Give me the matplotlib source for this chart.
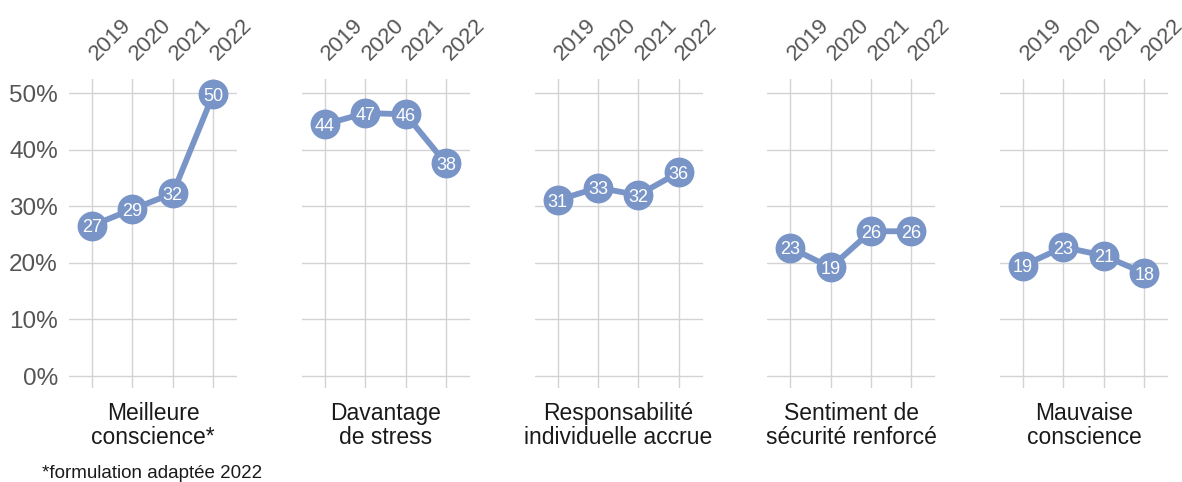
import matplotlib
matplotlib.use("Agg")
import matplotlib.pyplot as plt
import matplotlib.transforms as mtransforms
from matplotlib.ticker import FuncFormatter

years = ["2019", "2020", "2021", "2022"]
categories = ["Meilleure\nconscience*", "Davantage\nde stress",
              "Responsabilité\nindividuelle accrue", "Sentiment de\nsécurité renforcé",
              "Mauvaise\nconscience"]
meilleure_conscience = [26.6, 29.5, 32.3, 49.8]
davantage_stress = [44.5, 46.5, 46.3, 37.6]
responsabilite = [31.1, 33.3, 32.0, 36.0]
securite = [22.7, 19.2, 25.6, 25.6]
mauvaise_conscience = [19.5, 22.8, 21.3, 18.2]
labels = [[27, 29, 32, 50], [44, 47, 46, 38], [31, 33, 32, 36], [23, 19, 26, 26], [19, 23, 21, 18]]
series = [meilleure_conscience, davantage_stress, responsabilite, securite, mauvaise_conscience]
yticks = [0, 10, 20, 30, 40, 50]
footnote = "*formulation adaptée 2022"

plt.rcParams['font.family'] = ['Liberation Sans', 'DejaVu Sans']
W, H = 1182, 482
fig = plt.figure(figsize=(W / 100, H / 100), dpi=100)
color = '#7995C8'
grid_c = '#d3d3d3'

lefts = [69, 301.75, 534.5, 767.25, 1000]
aw = 168
ab, at = 388, 79
for i, (vals, labs, cat) in enumerate(zip(series, labels, categories)):
    ax = fig.add_axes([lefts[i] / W, (H - ab) / H, aw / W, (ab - at) / H])
    x = list(range(len(years)))
    ax.plot(x, vals, color=color, lw=4.2, solid_capstyle='round', zorder=3)
    ax.plot(x, vals, 'o', color=color, ms=21.5, mec='none', zorder=4)
    for xi, v, l in zip(x, vals, labs):
        ax.text(xi, v, str(l), color='white', fontsize=13, ha='center', va='center_baseline', zorder=5)
    ax.set_xlim(-0.57, 3.59)
    ax.set_ylim(-2.12, 52.53)
    ax.set_xticks(x)
    ax.tick_params(axis='x', labelbottom=False, labeltop=False)
    trans = mtransforms.blended_transform_factory(ax.transData, ax.transAxes) + \
        mtransforms.ScaledTranslation(8 / 100, 14 / 100, fig.dpi_scale_trans)
    for xi, yr in zip(x, years):
        ax.text(xi, 1.0, yr, transform=trans, rotation=45, ha='left', va='bottom',
                rotation_mode='anchor', fontsize=16, color='#555555', clip_on=False)
    ax.set_yticks(yticks)
    if i == 0:
        ax.yaxis.set_major_formatter(FuncFormatter(lambda v, p: f"{int(v)}%"))
        ax.tick_params(axis='y', labelsize=17.5, labelcolor='#555555', pad=8)
    else:
        ax.tick_params(axis='y', labelleft=False)
    ax.tick_params(axis='both', length=0)
    ax.grid(True, color=grid_c, lw=1)
    ax.set_axisbelow(True)
    for s in ax.spines.values():
        s.set_visible(False)
    ax.text(0.5, -0.045, cat, transform=ax.transAxes, ha='center', va='top',
            fontsize=16.5, color='#1a1a1a', linespacing=1.05)

fig.text(42 / W, (H - 473) / H, footnote, fontsize=13.5, color='#1a1a1a', va='center', ha='left')
fig.savefig('out.png', dpi=100)
